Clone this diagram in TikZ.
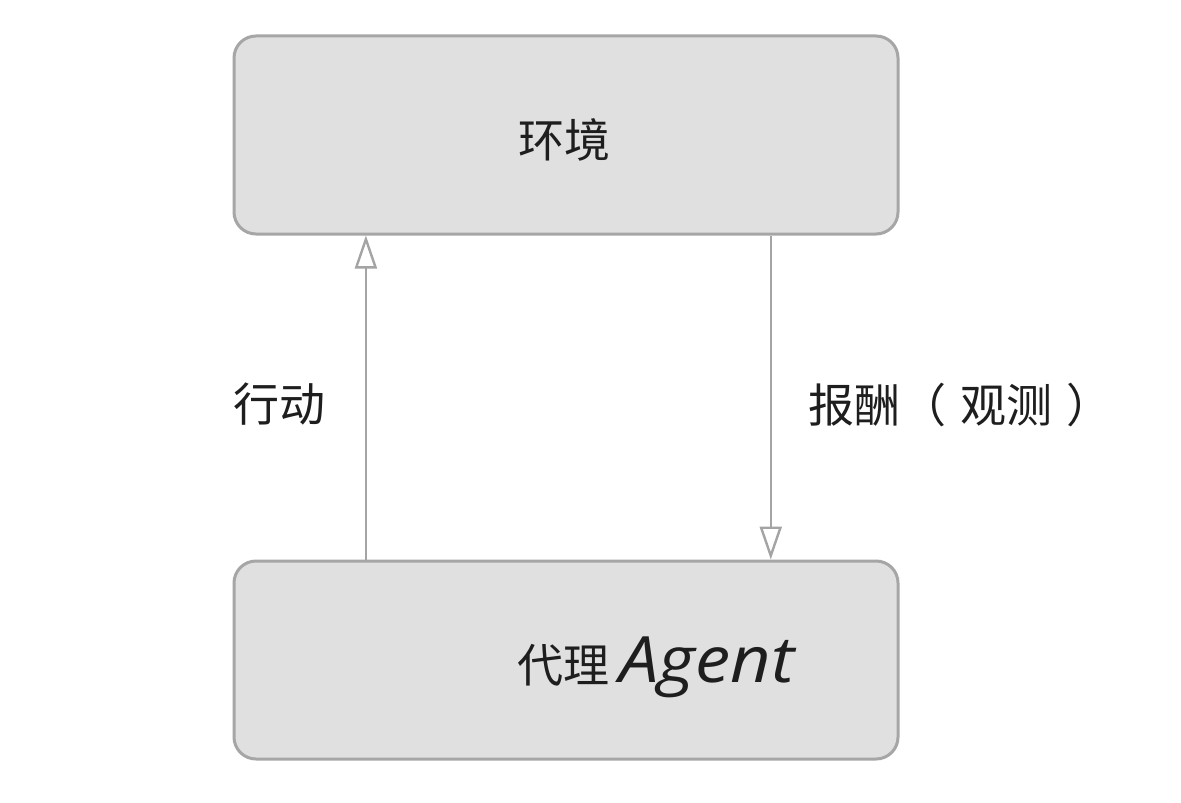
\documentclass[tikz,border=0pt]{standalone}
\usepackage{fontspec}
\newfontfamily\cjk{Noto Sans CJK SC}
\newfontfamily\agentfont[FakeStretch=1.1]{Open Sans}
\usepackage{tikz}
\usetikzlibrary{arrows.meta,calc,positioning}
\usepackage{xcolor}
\definecolor{bordo}{HTML}{A6A6A6}
\definecolor{riemp}{HTML}{E0E0E0}
\definecolor{grfreccia}{HTML}{A4A4A4}
\definecolor{testo}{HTML}{1E1E1E}

\begin{document}
\begin{tikzpicture}[x=0.5pt, y=-0.5pt,
  blocco/.style={draw=bordo, fill=riemp, line width=1.5pt, rounded corners=11pt,
    minimum width=332pt, minimum height=99pt, inner sep=0pt},
  etichetta/.style={font=\cjk\fontsize{23}{27}\selectfont, text=testo, inner sep=0pt},
  flusso/.style={draw=grfreccia, line width=1.2pt, -{Triangle[open, length=16.5pt, width=11pt]}}]
% sfondo e margini
\fill[white] (0,0) rectangle (1181,802);
\useasboundingbox (0,0) rectangle (1181,802);
% blocchi
\node[blocco] (ambiente) at (566,135) {};
\node[etichetta] (ambientelbl) at (564,140) {环境};
\node[blocco] (agente) at (566,660) {};
\node[etichetta, anchor=base west] (agentelbl) at (517,682)
  {代理\hspace{5pt}{\agentfont\itshape\fontsize{32}{36}\selectfont Agent}};
% frecce
\draw[flusso] ($(agente.north west)!0.2!(agente.north east)$)
  -- ($(ambiente.south west)!0.2!(ambiente.south east)$);
\draw[flusso] ($(ambiente.south west)!0.807!(ambiente.south east)$)
  -- ($(agente.north west)!0.807!(agente.north east)$);
% etichette delle frecce
\node[etichetta] (azione) at (279,404) {行动};
\node[etichetta, anchor=west] (premio) at (808,405) {报酬（\hspace{7pt}观测\hspace{7pt}）};
\end{tikzpicture}
\end{document}
